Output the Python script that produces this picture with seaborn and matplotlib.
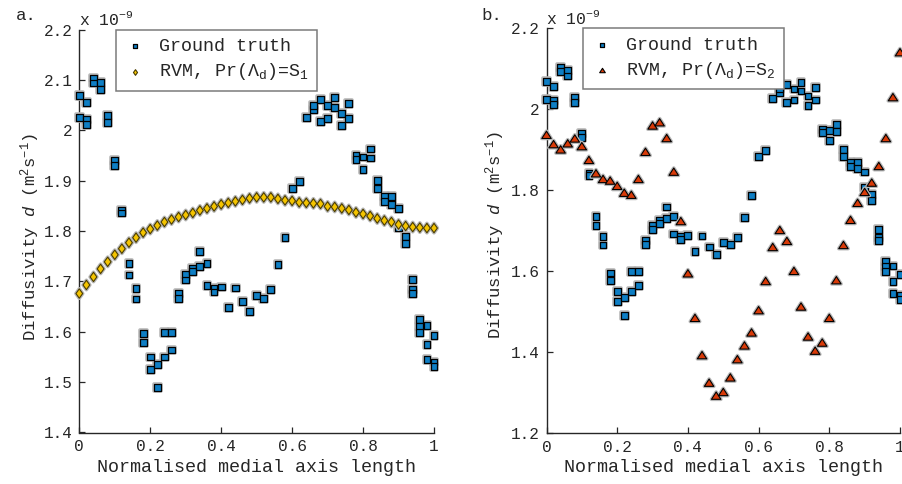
import matplotlib
matplotlib.use("Agg")
import numpy as np
import pandas as pd
import seaborn as sns
import matplotlib.pyplot as plt
from matplotlib.path import Path
from matplotlib.markers import MarkerStyle
import matplotlib.patheffects as pe

# ---------------- data (values in units of 1e-9 m^2 s^-1) ----------------
positions = [0.00, 0.02, 0.04, 0.06, 0.08, 0.10, 0.12, 0.14, 0.16, 0.18,
             0.20, 0.22, 0.24, 0.26, 0.28, 0.30, 0.32, 0.34, 0.36, 0.38,
             0.40, 0.42, 0.44, 0.46, 0.48, 0.50, 0.52, 0.54, 0.56, 0.58,
             0.60, 0.62, 0.64, 0.66, 0.68, 0.70, 0.72, 0.74, 0.76, 0.78,
             0.80, 0.82, 0.84, 0.86, 0.88, 0.90, 0.92, 0.94, 0.96, 0.98, 1.00]

ground_truth = [[2.069, 2.025], [2.056, 2.021, 2.012], [2.104, 2.094], [2.095, 2.082],
                [2.029, 2.016], [1.941, 1.931], [1.841, 1.836], [1.735, 1.713],
                [1.686, 1.665], [1.596, 1.578], [1.550, 1.525], [1.535, 1.490],
                [1.550, 1.599], [1.599, 1.564], [1.676, 1.666], [1.714, 1.703],
                [1.726, 1.719], [1.759, 1.730], [1.735, 1.692], [1.686, 1.679],
                [1.689], [1.649], [1.687], [1.660], [1.641], [1.672], [1.666],
                [1.684], [1.733], [1.787], [1.884], [1.898], [2.026],
                [2.041, 2.050], [2.061, 2.017], [2.050, 2.023], [2.066, 2.045],
                [2.033, 2.010], [2.053, 2.023], [1.950, 1.943], [1.947, 1.922],
                [1.963, 1.945], [1.901, 1.884], [1.869, 1.858], [1.869, 1.853],
                [1.845, 1.806], [1.790, 1.775], [1.704, 1.684, 1.676],
                [1.625, 1.611, 1.599], [1.613, 1.574, 1.545], [1.593, 1.540, 1.531]]

rvm_s1 = [1.676, 1.693, 1.709, 1.725, 1.739, 1.753, 1.765, 1.777, 1.787, 1.797,
          1.804, 1.811, 1.818, 1.823, 1.828, 1.832, 1.836, 1.841, 1.845, 1.849,
          1.853, 1.856, 1.859, 1.862, 1.865, 1.867, 1.867, 1.867, 1.864, 1.861,
          1.860, 1.857, 1.856, 1.855, 1.854, 1.849, 1.848, 1.845, 1.842, 1.837,
          1.834, 1.830, 1.825, 1.821, 1.818, 1.813, 1.810, 1.808, 1.807, 1.806, 1.806]

rvm_s2 = [1.937, 1.914, 1.901, 1.916, 1.928, 1.909, 1.875, 1.842, 1.828, 1.824,
          1.811, 1.794, 1.789, 1.828, 1.895, 1.960, 1.968, 1.929, 1.846, 1.724,
          1.595, 1.485, 1.393, 1.325, 1.293, 1.302, 1.338, 1.383, 1.417, 1.449,
          1.504, 1.576, 1.660, 1.702, 1.675, 1.601, 1.513, 1.439, 1.404, 1.424,
          1.485, 1.578, 1.665, 1.727, 1.769, 1.796, 1.819, 1.860, 1.929, 2.030, 2.141]

x_ticks = [0, 0.2, 0.4, 0.6, 0.8, 1]
x_tick_labels = ["0", "0.2", "0.4", "0.6", "0.8", "1"]
a_y_ticks = [1.4, 1.5, 1.6, 1.7, 1.8, 1.9, 2.0, 2.1, 2.2]
a_y_tick_labels = ["1.4", "1.5", "1.6", "1.7", "1.8", "1.9", "2", "2.1", "2.2"]
b_y_ticks = [1.2, 1.4, 1.6, 1.8, 2.0, 2.2]
b_y_tick_labels = ["1.2", "1.4", "1.6", "1.8", "2", "2.2"]

gt_df = pd.DataFrame({
    "x": [p for p, vals in zip(positions, ground_truth) for _ in vals],
    "y": [v for vals in ground_truth for v in vals],
})
s1_df = pd.DataFrame({"x": positions, "y": rvm_s1})
s2_df = pd.DataFrame({"x": positions, "y": rvm_s2})

# ---------------- style ----------------
sns.set_style("ticks")
plt.rcParams["font.family"] = ["Liberation Mono", "DejaVu Sans"]
plt.rcParams["mathtext.fontset"] = "custom"
plt.rcParams["mathtext.rm"] = "Liberation Mono"
plt.rcParams["mathtext.it"] = "Liberation Mono:italic"
plt.rcParams["mathtext.bf"] = "Liberation Mono:bold"
plt.rcParams["text.color"] = "#262626"
plt.rcParams["axes.labelcolor"] = "#262626"

BLUE = "#0e7ec4"
GOLD = "#f4c400"
RED = "#d83a08"

diamond = MarkerStyle(Path([(0, 1), (0.72, 0), (0, -1), (-0.72, 0), (0, 1)],
                           [Path.MOVETO, Path.LINETO, Path.LINETO, Path.LINETO, Path.CLOSEPOLY]))
triangle = MarkerStyle(Path([(0, 0.78), (1, -0.78), (-1, -0.78), (0, 0.78)],
                            [Path.MOVETO, Path.LINETO, Path.LINETO, Path.CLOSEPOLY]))
halo = [pe.Stroke(linewidth=2.6, foreground="#b8b8b8"), pe.Normal()]

fig = plt.figure(figsize=(9.02, 4.84), dpi=100)
axA = fig.add_axes([79.3 / 902, 1 - 432.5 / 484, 354.7 / 902, 402.8 / 484])
axB = fig.add_axes([546.5 / 902, 1 - 433.3 / 484, 353.5 / 902, 405.0 / 484])


def style_axes(ax, yticks, ylabels, ylim):
    ax.set_xlim(0, 1)
    ax.set_ylim(*ylim)
    ax.set_xticks(x_ticks)
    ax.set_xticklabels(x_tick_labels)
    ax.set_yticks(yticks)
    ax.set_yticklabels(ylabels)
    sns.despine(ax=ax)
    for sp in ("left", "bottom"):
        ax.spines[sp].set_linewidth(1.0)
        ax.spines[sp].set_color("#262626")
    ax.tick_params(direction="in", length=4, width=0.9, color="#262626",
                   labelsize=11.6, labelcolor="#262626", pad=5)
    ax.set_xlabel("Normalised medial axis length", fontsize=13.2, labelpad=3)
    ax.set_ylabel(r"Diffusivity $d$ (m$^{2}$s$^{-1}$)", fontsize=12.4)
    ax.yaxis.label.set_verticalalignment("center")
    ax.text(0.0, 1.004, r"x 10$^{-9}$", transform=ax.transAxes,
            ha="left", va="bottom", fontsize=11.8)


# ---- panel a ----
sns.scatterplot(data=gt_df, x="x", y="y", ax=axA, marker="s", s=24, color=BLUE,
                edgecolor="black", linewidth=0.9, clip_on=False, zorder=3,
                label="Ground truth", path_effects=halo)
sns.scatterplot(data=s1_df, x="x", y="y", ax=axA, marker=diamond, s=46, color=GOLD,
                edgecolor="#4a3c00", linewidth=0.8, clip_on=False, zorder=4,
                label=r"RVM, Pr(Λ$_{\rm d}$)=S$_{1}$", path_effects=halo)
style_axes(axA, a_y_ticks, a_y_tick_labels, (1.4, 2.2))
axA.yaxis.set_label_coords(-0.139, 0.487)

# ---- panel b ----
sns.scatterplot(data=gt_df, x="x", y="y", ax=axB, marker="s", s=24, color=BLUE,
                edgecolor="black", linewidth=0.9, clip_on=False, zorder=3,
                label="Ground truth", path_effects=halo)
sns.scatterplot(data=s2_df, x="x", y="y", ax=axB, marker=triangle, s=46, color=RED,
                edgecolor="black", linewidth=0.8, clip_on=False, zorder=4,
                label=r"RVM, Pr(Λ$_{\rm d}$)=S$_{2}$", path_effects=halo)
style_axes(axB, b_y_ticks, b_y_tick_labels, (1.2, 2.2))
axB.yaxis.set_label_coords(-0.146, 0.49)

for ax in (axA, axB):
    leg = ax.legend(loc="upper left", bbox_to_anchor=(0.103, 1.0), borderaxespad=0,
                    fontsize=13.2, markerscale=0.6, frameon=True, fancybox=False,
                    framealpha=1, edgecolor="#7a7a7a", handlelength=1.2,
                    handletextpad=0.7, borderpad=0.45, labelspacing=0.35)
    leg.get_frame().set_linewidth(1.1)
    for h in leg.legend_handles:
        h.set_path_effects([])

fig.text(16 / 902, 1 - 15 / 484, "a.", fontsize=12.5, va="center", ha="left")
fig.text(481 / 902, 1 - 15 / 484, "b.", fontsize=12.5, va="center", ha="left")

fig.savefig("out.png", dpi=100)
